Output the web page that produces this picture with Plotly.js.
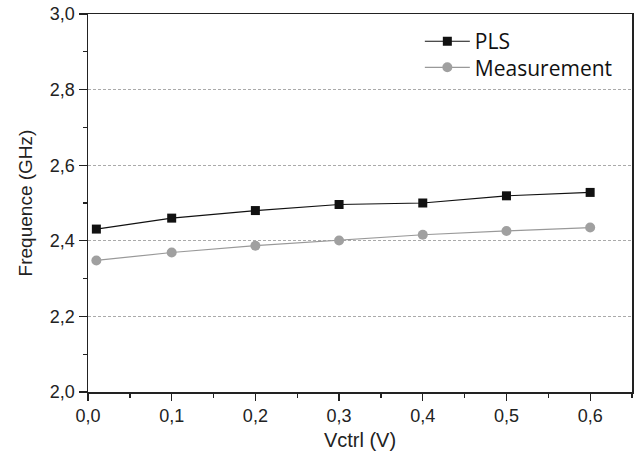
<!DOCTYPE html>
<html>
<head>
<meta charset="utf-8">
<script src="https://cdn.plot.ly/plotly-3.0.1.min.js"></script>
<style>html,body{margin:0;padding:0;background:#fff;}#chart{width:634px;height:461px;}</style>
</head>
<body>
<div id="chart"></div>
<script>
const vctrl = [0.01, 0.1, 0.2, 0.3, 0.4, 0.5, 0.6];
const plsFreq = [2.431, 2.460, 2.480, 2.496, 2.500, 2.519, 2.528];
const measFreq = [2.348, 2.369, 2.387, 2.401, 2.416, 2.426, 2.435];
const seriesNames = ["PLS", "Measurement"];
const xTicks = [0, 0.1, 0.2, 0.3, 0.4, 0.5, 0.6];

const axisFont = "Liberation Sans, Arial, sans-serif";
const tickFont = {family: axisFont, size: 18, color: "#222"};
const legendFont = {family: "Open Sans, sans-serif", size: 21, color: "#111"};

const traces = [
  {x: vctrl, y: plsFreq, name: seriesNames[0], mode: "lines+markers", type: "scatter", legend: "legend",
   line: {color: "#111", width: 1.2}, marker: {symbol: "square", size: 9, color: "#111"}},
  {x: vctrl, y: measFreq, name: seriesNames[1], mode: "lines+markers", type: "scatter", legend: "legend2",
   line: {color: "#999", width: 1.2}, marker: {symbol: "circle", size: 10, color: "#a0a0a0"}}
];

const layout = {
  width: 634, height: 461,
  margin: {l: 88, r: 2, t: 14, b: 69},
  paper_bgcolor: "#fff", plot_bgcolor: "#fff",
  separators: ", ",
  showlegend: true,
  legend: {x: 0.61, y: 0.927, xanchor: "left", yanchor: "middle", bgcolor: "rgba(0,0,0,0)",
           itemwidth: 45, font: legendFont, tracegroupgap: 0},
  legend2: {x: 0.61, y: 0.858, xanchor: "left", yanchor: "middle", bgcolor: "rgba(0,0,0,0)",
           itemwidth: 45, font: legendFont, tracegroupgap: 0},
  xaxis: {range: [0, 0.65], tickvals: xTicks, tickformat: ".1f",
          ticks: "outside", ticklen: 7, tickwidth: 1.3, tickcolor: "#222",
          minor: {dtick: 0.05, tick0: 0, ticks: "outside", ticklen: 4, tickwidth: 1.3, tickcolor: "#222"},
          showline: true, mirror: true, linecolor: "#222", linewidth: 1.5, showgrid: false, zeroline: false,
          tickfont: tickFont,
          title: {text: "Vctrl (V)", font: {family: axisFont, size: 20, color: "#222"}, standoff: 8}},
  yaxis: {range: [2.0, 3.0], dtick: 0.2, tick0: 2.0, tickformat: ".1f",
          ticks: "outside", ticklen: 8, tickwidth: 1.3, tickcolor: "#222",
          minor: {dtick: 0.1, ticks: "outside", ticklen: 4, tickwidth: 1.3, tickcolor: "#222"},
          showline: true, mirror: true, linecolor: "#222", linewidth: 1.5,
          showgrid: true, gridcolor: "#aaa", griddash: "3px,2px", gridwidth: 1, zeroline: false,
          tickfont: tickFont,
          title: {text: "Frequence (GHz)", font: {family: axisFont, size: 19, color: "#222"}, standoff: 12}}
};

Plotly.newPlot("chart", traces, layout, {displayModeBar: false, staticPlot: true});
</script>
</body>
</html>
